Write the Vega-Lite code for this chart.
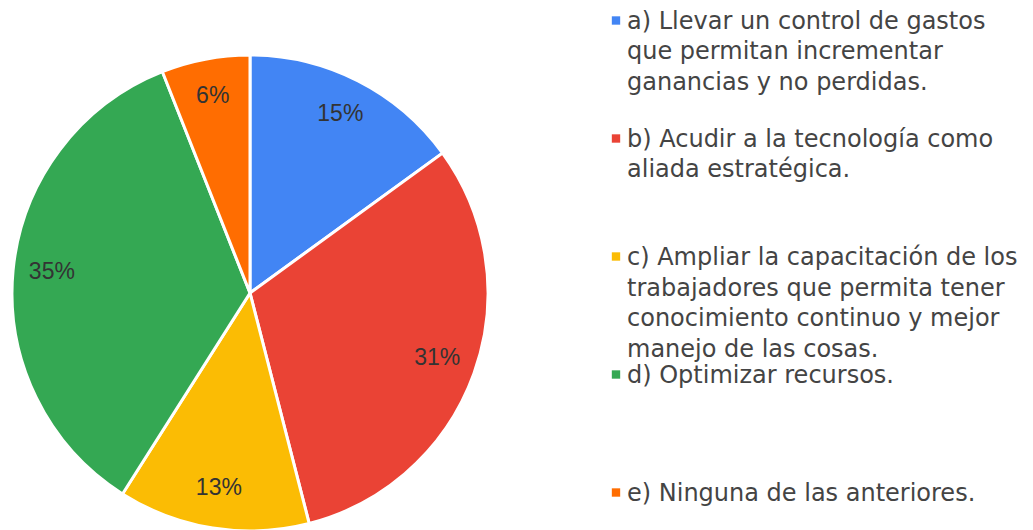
{
  "$schema": "https://vega.github.io/schema/vega-lite/v6.json",
  "padding": 0,
  "background": "white",
  "config": {"view": {"stroke": null}, "font": "Liberation Sans"},
  "data": {"values": [
    {"key": "a", "pct": 15, "pctLabel": "15%", "label": "a) Llevar un control de gastos|que permitan incrementar|ganancias y no perdidas."},
    {"key": "b", "pct": 31, "pctLabel": "31%", "label": "b) Acudir a la tecnología como|aliada estratégica."},
    {"key": "c", "pct": 13, "pctLabel": "13%", "label": "c) Ampliar la capacitación de los|trabajadores que permita tener|conocimiento continuo y mejor|manejo de las cosas."},
    {"key": "d", "pct": 35, "pctLabel": "35%", "label": "d) Optimizar recursos."},
    {"key": "e", "pct": 6, "pctLabel": "6%", "label": "e) Ninguna de las anteriores."}
  ]},
  "spacing": 106,
  "hconcat": [
    {
      "width": 500,
      "height": 530,
      "encoding": {
        "theta": {"field": "pct", "type": "quantitative", "stack": true},
        "order": {"field": "key", "type": "nominal"}
      },
      "layer": [
        {
          "mark": {"type": "arc", "outerRadius": 238, "stroke": "white", "strokeWidth": 3, "yOffset": 28},
          "encoding": {
            "color": {"field": "key", "type": "nominal", "legend": null,
              "scale": {"domain": ["a", "b", "c", "d", "e"], "range": ["#4285F4", "#EA4335", "#FBBC04", "#34A853", "#FF6D01"]}}
          }
        },
        {
          "mark": {"type": "text", "radius": 199, "fontSize": 23, "fill": "#333333", "yOffset": 26},
          "encoding": {"text": {"field": "pctLabel", "type": "nominal"}}
        }
      ]
    },
    {
      "width": 20,
      "height": 513,
      "encoding": {
        "y": {"field": "key", "type": "nominal", "axis": null, "scale": {"type": "point", "padding": 0.1737}}
      },
      "layer": [
        {
          "mark": {"type": "square", "size": 70, "filled": true, "opacity": 1},
          "encoding": {
            "color": {"field": "key", "type": "nominal", "legend": null,
              "scale": {"domain": ["a", "b", "c", "d", "e"], "range": ["#4285F4", "#EA4335", "#FBBC04", "#34A853", "#FF6D01"]}}
          }
        },
        {
          "mark": {"type": "text", "align": "left", "baseline": "alphabetic", "dx": 11, "dy": 8.5, "font": "DejaVu Sans", "fontSize": 24, "lineHeight": 30.5, "lineBreak": "|", "fill": "#444444"},
          "encoding": {"text": {"field": "label", "type": "nominal"}}
        }
      ]
    }
  ]
}
